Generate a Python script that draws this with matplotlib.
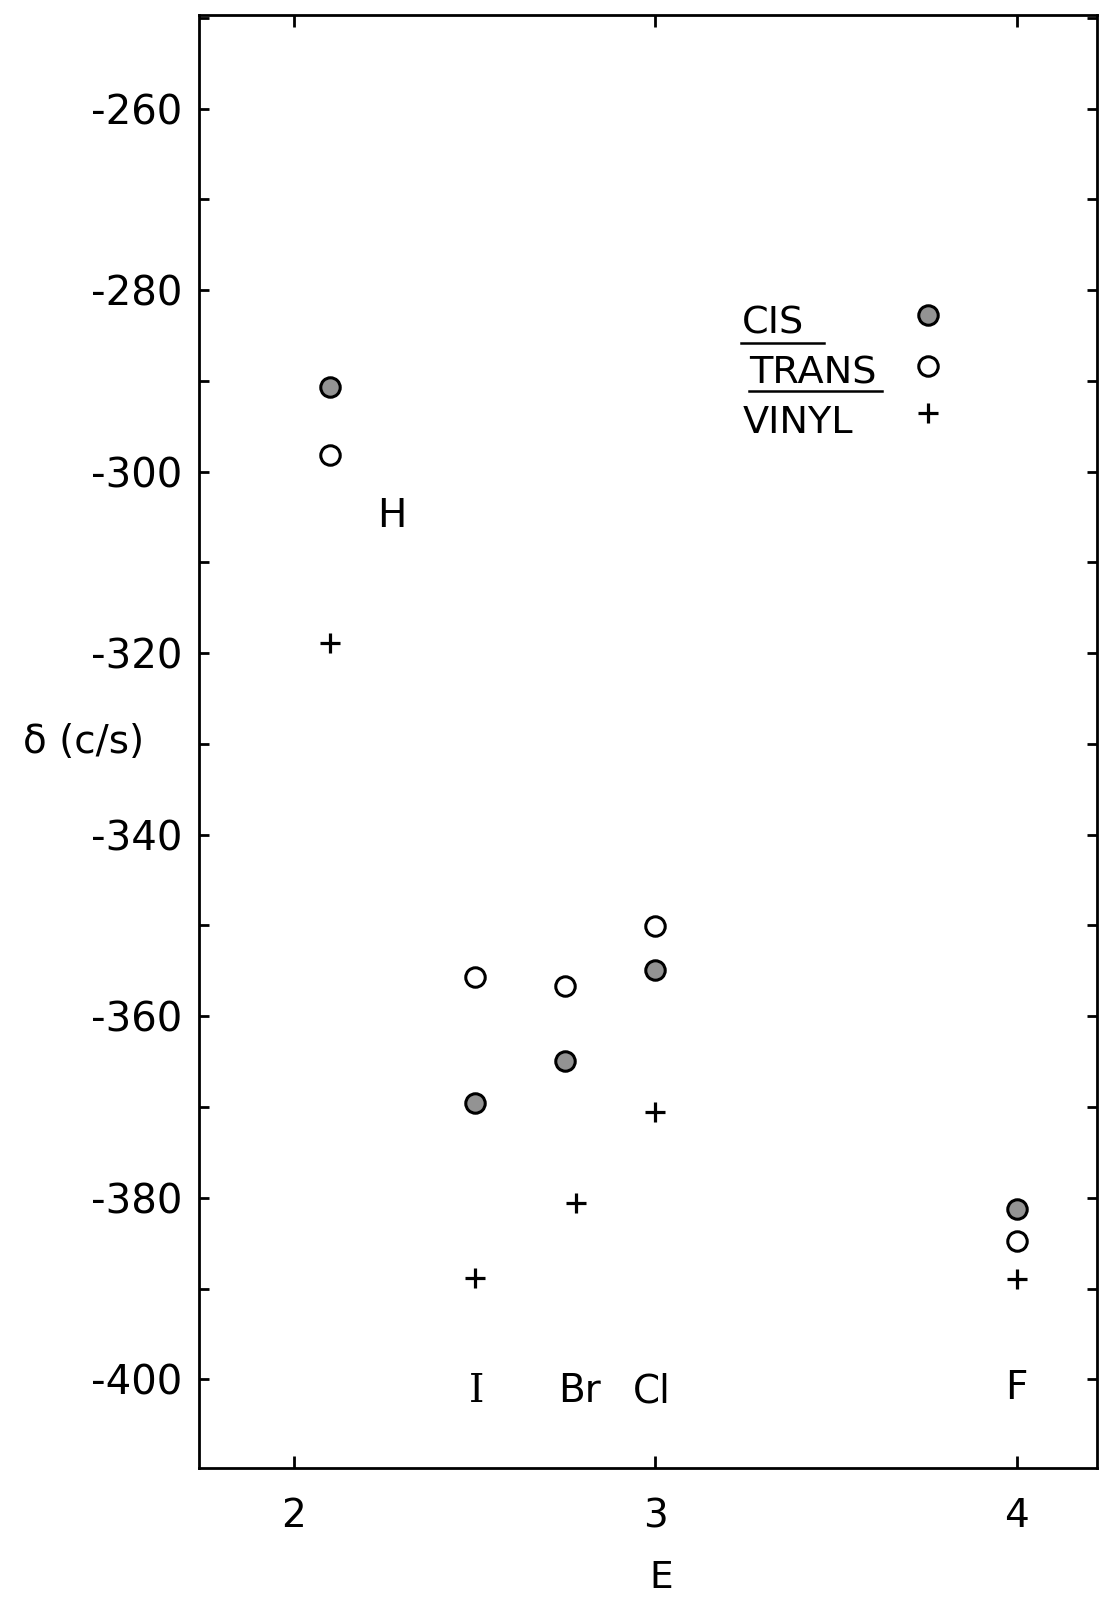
import matplotlib
matplotlib.use("Agg")
import matplotlib.pyplot as plt
from matplotlib.ticker import FixedLocator, MultipleLocator

plt.rcParams["font.family"] = ["DejaVu Sans"]
plt.rcParams["axes.unicode_minus"] = False

# Substituent electronegativity E and chemical shifts delta (c/s)
substituents = ["H", "I", "Br", "Cl", "F"]
e_cis_trans = [2.1, 2.5, 2.75, 3.0, 4.0]
e_vinyl = [2.1, 2.5, 2.78, 3.0, 4.0]
delta_cis = [-290.7, -369.6, -364.9, -354.9, -381.2]
delta_trans = [-298.2, -355.7, -356.7, -350.1, -384.8]
delta_vinyl = [-318.9, -388.8, -380.6, -370.6, -388.9]

x_ticks = [2, 3, 4]
y_ticks = [-260, -280, -300, -320, -340, -360, -380, -400]
legend_labels = ["CIS", "TRANS", "VINYL"]

# label anchors (data coords) for the substituent names
label_pos = {"H": (2.27, -306.1), "I": (2.505, -402.5), "Br": (2.79, -402.5),
             "Cl": (2.99, -402.5), "F": (4.0, -402.2)}

INK = "black"
CIS_FILL = "#939393"

fig = plt.figure(figsize=(11.01, 16.0), dpi=100)
ax = fig.add_axes([0.1807, 0.0823, 0.8156, 0.9083])
ax.set_xlim(1.737, 4.222)
ax.set_ylim(-409.8, -249.7)

for s in ax.spines.values():
    s.set_linewidth(2.0)
    s.set_color(INK)

marker_kw = dict(linestyle="none", markersize=14.0, markeredgewidth=2.2,
                 markeredgecolor=INK)
ax.plot(e_cis_trans, delta_cis, marker="o", markerfacecolor=CIS_FILL, **marker_kw)
ax.plot(e_cis_trans, delta_trans, marker="o", markerfacecolor="white", **marker_kw)
ax.plot(e_vinyl, delta_vinyl, marker="+", color=INK, linestyle="none",
        markersize=14.4, markeredgewidth=2.3)

# substituent names
for name in substituents:
    x, y = label_pos[name]
    fam = ["DejaVu Serif"] if name == "I" else ["DejaVu Sans"]
    ax.text(x, y, name, fontsize=28, ha="center", va="baseline",
            family=fam, color=INK)

# axes ticks
ax.xaxis.set_major_locator(FixedLocator(x_ticks))
ax.yaxis.set_major_locator(FixedLocator(y_ticks))
ax.yaxis.set_minor_locator(MultipleLocator(10))
ax.tick_params(axis="both", which="both", direction="in", width=2.0,
               colors=INK, top=True, right=True)
ax.tick_params(axis="x", which="major", length=8.5, labelsize=28, pad=21)
ax.tick_params(axis="y", which="major", length=7.5, labelsize=29, pad=12)
ax.tick_params(axis="y", which="minor", length=7.5)
ax.set_yticklabels([str(v) for v in y_ticks])
ax.set_xticklabels([str(v) for v in x_ticks])

ax.set_xlabel("E", fontsize=27)
ax.xaxis.set_label_coords(0.5145, -0.0755)
ax.xaxis.label.set_va("center")
ax.set_ylabel("\u03b4 (c/s)", fontsize=28, rotation=0)
ax.yaxis.set_label_coords(-0.128, 0.4998)
ax.yaxis.label.set_va("center")
ax.yaxis.label.set_ha("center")

# hand-lettered key
tr = ax.transAxes
key_text_x = [0.6050, 0.6130, 0.6060]
key_base_y = [0.7807, 0.7463, 0.7126]
key_mark_y = [0.7936, 0.7585, 0.7263]
key_mark_x = 0.8118
for lab, tx, ty in zip(legend_labels, key_text_x, key_base_y):
    ax.text(tx, ty, lab, transform=tr, fontsize=27.5, ha="left",
            va="baseline", color=INK)
ax.plot([0.6040, 0.6960], [0.7745, 0.7745], transform=tr, color=INK, lw=1.8)
ax.plot([0.6130, 0.7610], [0.7410, 0.7410], transform=tr, color=INK, lw=1.8)
ax.plot([key_mark_x], [key_mark_y[0]], transform=tr, marker="o",
        markerfacecolor=CIS_FILL, **marker_kw)
ax.plot([key_mark_x], [key_mark_y[1]], transform=tr, marker="o",
        markerfacecolor="white", **marker_kw)
ax.plot([key_mark_x], [key_mark_y[2]], transform=tr, marker="+", color=INK,
        linestyle="none", markersize=14.4, markeredgewidth=2.3)

fig.savefig("out.png", dpi=100, facecolor="white")
